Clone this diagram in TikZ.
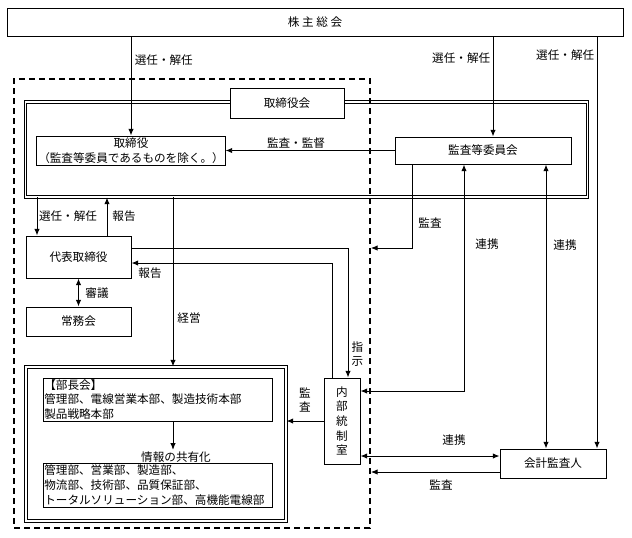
\documentclass[tikz,border=0pt]{standalone}
\usepackage{fontspec}
\setmainfont{Noto Sans CJK JP}
\usetikzlibrary{arrows.meta}

\tikzset{
  caja/.style={draw, line width=0.7pt, fill=white, inner sep=1pt, align=center},
  marco/.style={draw, double, double distance=1.3pt, line width=0.7pt, inner sep=0pt},
  grupo/.style={draw, dashed, dash pattern=on 4.5pt off 3pt, line width=1.3pt, inner sep=0pt},
  etiq/.style={inner sep=1pt},
  >={Latex[length=5pt,width=4pt]}
}

\begin{document}
\begin{tikzpicture}[x=0.75pt, y=-0.75pt, line width=0.7pt, font=\fontsize{8.7pt}{11pt}\selectfont]
    \useasboundingbox (0,0) rectangle (632,537);

    % Marcos
    \node[marco, minimum width=421.5pt, minimum height=71.25pt] (kai) at (306.5,149.5) {};
    \node[marco, minimum width=195pt, minimum height=115.5pt] (bucho) at (156,444) {};
    \node[grupo, minimum width=267pt, minimum height=336.75pt] (cuerpo) at (192,303.5) {};

    % Cajas
    \node[caja, minimum width=462pt, minimum height=21pt] (soukai) at (315,22) {株\ 主\ 総\ 会};
    \node[caja, minimum width=85.5pt, minimum height=22.5pt] (kaititle) at (287,103) {取締役会};
    \node[caja, minimum width=132pt, minimum height=21.75pt] (yaku) at (131,150.5) {取締役\\（監査等委員であるものを除く。）};
    \node[caja, minimum width=132pt, minimum height=20.25pt] (iin) at (483,150.5) {監査等委員会};
    \node[caja, minimum width=78.75pt, minimum height=31.5pt] (daihyo) at (78.5,257) {代表取締役};
    \node[caja, minimum width=78.75pt, minimum height=21.75pt] (joumu) at (78.5,321.5) {常務会};
    \node[caja, minimum width=27pt, minimum height=64.5pt] (naibu) at (342,421) {内\\部\\統\\制\\室};
    \node[caja, minimum width=79.5pt, minimum height=21.75pt] (kaikei) at (553,463.5) {会計監査人};
    \node[caja, text width=169.75pt, minimum height=32.25pt, align=left] (bu1) at (157.5,399.5)
        {【部長会】\\管理部、電線営業本部、製造技術本部\\製品戦略本部};
    \node[etiq] (joho) at (176,457) {情報の共有化};
    \node[caja, text width=169.75pt, minimum height=33pt, align=left] (bu2) at (157.5,485)
        {管理部、営業部、製造部、\\物流部、技術部、品質保証部、\\トータルソリューション部、高機能電線部};

    % Conexiones
    \draw[->] (soukai.south -| yaku.north) -- (yaku.north);
    \draw[->] (soukai.south -| 493,0) -- (iin.north -| 493,0);
    \draw[->] (soukai.south -| 597,0) -- (kaikei.north -| 597,0);
    \draw[->] (iin.west) -- (yaku.east);

    \draw[->] (kai.south -| 37,0) -- (daihyo.north -| 37,0);
    \draw[->] (daihyo.north -| 107,0) -- (kai.south -| 107,0);
    \draw[->] (kai.south -| 173,0) -- (bucho.north -| 173,0);
    \draw[<->] (daihyo.south) -- (joumu.north);

    \draw[->] (daihyo.east |- 0,248) -| (naibu.north -| 348,0);
    \draw[->] (naibu.north -| 332,0) |- (daihyo.east |- 0,263);
    \draw[->] (iin.south -| 412,0) |- (cuerpo.east |- 0,248);
    \draw[<->] (naibu.east |- 0,391) -| (iin.south -| 464,0);
    \draw[<->] (iin.south -| 546,0) -- (kaikei.north -| 546,0);

    \draw[->] (naibu.west) -- (bucho.east |- naibu.west);
    \draw[<->] (naibu.east |- 0,456) -- (kaikei.west |- 0,456);
    \draw[->] (kaikei.west |- 0,472) -- (cuerpo.east |- 0,472);
    \draw[->] (bu1.south -| 173,0) -- (joho.north -| 173,0);

    % Etiquetas
    \node[etiq, anchor=west] (l1) at (133,60) {選任・解任};
    \node[etiq, anchor=east] (l2) at (492,58) {選任・解任};
    \node[etiq, anchor=east] (l3) at (596,55) {選任・解任};
    \node[etiq] (l4) at (296,143) {監査・監督};
    \node[etiq] (l5) at (68,216) {選任・解任};
    \node[etiq] (l6) at (124,216) {報告};
    \node[etiq] (l7) at (189,318) {経営};
    \node[etiq] (l8) at (97,293) {審議};
    \node[etiq] (l9) at (150,273) {報告};
    \node[etiq, align=center] (l10) at (357.5,354) {指\\示};
    \node[etiq] (l11) at (430,223) {監査};
    \node[etiq] (l12) at (487,244) {連携};
    \node[etiq] (l13) at (565,245) {連携};
    \node[etiq, align=center] (l14) at (305,400) {監\\査};
    \node[etiq] (l15) at (454,440) {連携};
    \node[etiq] (l16) at (441,485) {監査};

\end{tikzpicture}
\end{document}
